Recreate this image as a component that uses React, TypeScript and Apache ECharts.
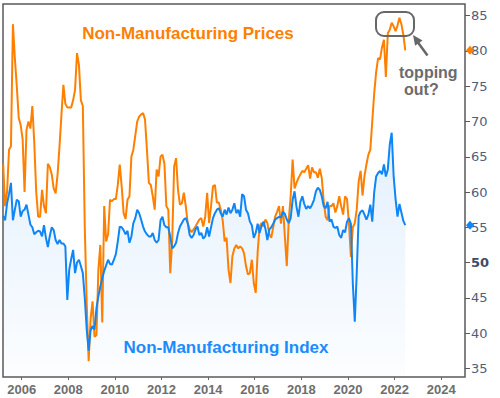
import React, { useEffect, useRef } from "react";
import * as echarts from "echarts";

// Monthly data, March 2005 .. June 2022
const START_YEAR = 2005;
const START_MONTH = 3;

const pricesIndex: number[] = [
  63.9, 58, 60, 66, 66.5, 83.8, 79, 75, 70.5, 69.5,
  67.5, 60, 68.8, 70, 69, 72.2, 67, 60, 56.5, 56.5, 60.3, 58,
  57, 64, 63.5, 62.5, 60.5, 59.8, 62.5, 66.5, 71, 75.2, 72.5, 72,
  72, 72, 73, 74.5, 79.7, 78, 73, 72.2, 55, 44.2, 36, 42,
  44.5, 39.5, 39.7, 49, 52.5, 41.5, 58, 53, 54, 58.9, 58.7, 59,
  59, 61, 63.9, 60.8, 57, 56.2, 58.9, 59.4, 65, 66, 68, 70,
  70.7, 71, 71.2, 70.3, 66, 61.3, 61, 59.4, 57.5, 63.2, 62.2, 65,
  65.3, 64, 58, 57.5, 48.5, 53, 63.6, 64.8, 60.3, 58.2, 58.4, 59.9,
  58, 55.6, 54.7, 54.3, 54.7, 55.1, 55.6, 56.1, 56.3, 55.1, 56.5, 59.9,
  55.6, 58, 60.8, 61, 58.5, 58.5, 57.5, 56, 53, 53.5, 49, 47.1,
  50.9, 52, 52.5, 52, 52.3, 52, 51.3, 49.5, 48.3, 48.5, 50.4, 47.1,
  45.7, 51.5, 55.1, 55.6, 55.1, 56.1, 55.6, 54, 53.5, 55, 56.5, 57.2,
  58, 55.5, 58, 53.7, 49.5, 56, 59.4, 64.6, 60.5, 61.3, 62, 62.5,
  63, 62.8, 63.3, 63.8, 61.9, 63.5, 62.8, 62.8, 62, 63.3, 62, 58.7,
  56.5, 56, 58, 58, 58.4, 57.1, 58, 59.4, 58, 56.8, 59.4, 59,
  55.5, 50.8, 55, 55.6, 57.5, 61.5, 63, 59.5, 62.3, 63.9, 65.3, 66,
  70, 74, 77, 79, 78.8, 80.5, 81.6, 76.3, 82.5, 83, 84, 83.5,
  82.8, 83.6, 84.7, 83.8, 82.3, 80.1,
];

const nmIndex: number[] = [
  56.6, 56, 58.4, 59.7, 61.3, 56, 57.5, 58.9, 58.7, 56.5,
  57.3, 57.5, 58.2, 56.8, 55.4, 55, 54, 54.3, 54.5, 54.4, 53.7, 55.3,
  53.5, 52.2, 53.8, 55, 54.6, 53.2, 52.6, 53.2, 52.7, 52.7, 52.3, 44.7,
  49, 50.5, 51.8, 48.5, 50, 50.4, 49.5, 48.5, 45, 40.5, 37.5, 40.4,
  41, 40.5, 43.5, 45.2, 46.6, 47.8, 48.8, 49.6, 50.4, 49.8, 49.7, 50.4,
  51.2, 53, 55.1, 55, 54.6, 54, 54.5, 52.8, 53.7, 55.6, 56.3, 57.5,
  57, 56.1, 55.1, 54.4, 54, 53.7, 53.7, 54.2, 53.2, 52.8, 53.2, 56,
  56.5, 55.3, 55, 55, 53.7, 52, 52.3, 52.8, 54.2, 55.1, 55.6, 56.1,
  56.3, 55.6, 53.9, 53.5, 53.9, 54.7, 55.1, 53.9, 54.2, 53.4, 53.7, 55,
  53.7, 55, 56.3, 57, 57.5, 57.7, 57, 56.5, 57.5, 56.8, 57.8, 57,
  57.5, 58.4, 57, 57.5, 56.5, 59.7, 59.4, 57.5, 57, 55.8, 55.3, 53.5,
  54.2, 55.5, 54.2, 55.2, 55.8, 54.8, 53.2, 54.7, 55, 55.5, 56.1, 56.3,
  56.5, 56.4, 57.2, 56.9, 56.1, 55.6, 56.3, 58.9, 60.1, 57.9, 56.5, 58.6,
  59.4, 58.3, 57.6, 58, 57.7, 58.2, 58.9, 60.1, 60.6, 60.3, 59.4, 58,
  57.7, 58.6, 55.8, 56.1, 55.1, 54.9, 55.1, 53.9, 53.5, 54.6, 54.3, 55.8,
  56.3, 55.5, 47, 41.6, 48.5, 56.6, 57.2, 57.4, 56.8, 56.1, 56.8, 58.2,
  55.8, 60, 62.2, 62.7, 63, 62.5, 63.9, 62.2, 63.2, 66.7, 68.4, 62.3,
  59, 56.5, 58.3, 57.1, 55.9, 55.3,
];

const xTickYears: number[] = [2006, 2008, 2010, 2012, 2014, 2016, 2018, 2020, 2022, 2024];
const yTickValues: number[] = [35, 40, 45, 50, 55, 60, 65, 70, 75, 80, 85];

const X_MIN = 2005.2;
const X_MAX = 2025.02;
const Y_MIN = 33.77;
const Y_MAX = 86.66;

const ORANGE = "#ff8000";
const BLUE = "#0f86f5";

function monthPos(i: number): number {
  return START_YEAR + (START_MONTH - 1 + i + 0.5) / 12;
}

export default function App() {
  const ref = useRef<HTMLDivElement>(null);

  useEffect(() => {
    if (!ref.current) return;
    const chart = echarts.init(ref.current, null, { renderer: "svg" });

    const pricesData = pricesIndex.map((v, i) => [monthPos(i), v]);
    const nmData = nmIndex.map((v, i) => [monthPos(i), v]);
    const lastPrice = pricesIndex[pricesIndex.length - 1];
    const lastNm = nmIndex[nmIndex.length - 1];

    const textStyle = (text: string, fill: string, size: number, align: string) => ({
      text,
      fill,
      fontFamily: "Liberation Sans",
      fontSize: size,
      fontWeight: "bold",
      align,
      verticalAlign: "middle",
    });

    const baseGraphic: any[] = [
      { type: "text", x: 188, y: 33, style: textStyle("Non-Manufacturing Prices", ORANGE, 17, "center"), z: 10 },
      { type: "text", x: 226, y: 347.5, style: textStyle("Non-Manufacturing Index", "#1a8cff", 17, "center"), z: 10 },
      {
        type: "rect",
        shape: { x: 376, y: 12, width: 38, height: 24, r: 8 },
        style: { fill: "none", stroke: "#676767", lineWidth: 2 },
        z: 10,
      },
      {
        type: "line",
        shape: { x1: 427.5, y1: 55.5, x2: 418, y2: 42.5 },
        style: { stroke: "#676767", lineWidth: 2.5 },
        z: 10,
      },
      {
        type: "polygon",
        shape: { points: [[413, 35], [422.5, 40.6], [415.1, 45.8]] },
        style: { fill: "#676767" },
        z: 10,
      },
      { type: "text", x: 399, y: 72, style: textStyle("topping", "#6b6b6b", 16, "left"), z: 10 },
      { type: "text", x: 404, y: 89.5, style: textStyle("out?", "#6b6b6b", 16, "left"), z: 10 },
    ];

    const option: any = {
      animation: false,
      backgroundColor: "#ffffff",
      grid: {
        left: 3,
        right: 35,
        top: 4,
        bottom: 21,
        show: true,
        borderColor: "#5a5a5a",
        borderWidth: 1.5,
        backgroundColor: "transparent",
        containLabel: false,
      },
      xAxis: {
        type: "value",
        min: X_MIN,
        max: X_MAX,
        splitLine: { show: false },
        axisLine: { show: false },
        axisTick: { show: true, customValues: xTickYears, length: 3, lineStyle: { color: "#666", width: 1 } },
        axisLabel: {
          customValues: xTickYears,
          formatter: (v: number) => String(Math.round(v)),
          color: "#6e6e6e",
          fontFamily: "Liberation Sans",
          fontSize: 13,
          fontWeight: "bold",
          margin: 6,
        },
      },
      yAxis: {
        type: "value",
        position: "right",
        min: Y_MIN,
        max: Y_MAX,
        splitLine: { show: false },
        axisLine: { show: false },
        axisTick: { show: true, customValues: yTickValues, length: 5, lineStyle: { color: "#5a5a5a", width: 1 } },
        axisLabel: {
          customValues: yTickValues,
          formatter: (v: number) => (Math.round(v) === 50 ? "{b|50}" : String(Math.round(v))),
          color: "#4f5d7a",
          fontFamily: "DejaVu Sans",
          fontSize: 13,
          margin: 6,
          rich: { b: { fontWeight: "bold", color: "#3f4b66", fontFamily: "DejaVu Sans", fontSize: 13 } },
        },
      },
      series: [
        {
          name: "NMI area",
          type: "line",
          data: nmData,
          showSymbol: false,
          silent: true,
          lineStyle: { width: 0 },
          areaStyle: {
            origin: "start",
            color: new echarts.graphic.LinearGradient(0, 0, 0, 1, [
              { offset: 0, color: "rgba(20,130,240,0.17)" },
              { offset: 1, color: "rgba(20,130,240,0.02)" },
            ]),
          },
          z: 1,
        },
        {
          name: "Non-Manufacturing Prices",
          type: "line",
          data: pricesData,
          showSymbol: false,
          lineStyle: { color: ORANGE, width: 2 },
          itemStyle: { color: ORANGE },
          z: 2,
        },
        {
          name: "Non-Manufacturing Index",
          type: "line",
          data: nmData,
          showSymbol: false,
          lineStyle: { color: BLUE, width: 2 },
          itemStyle: { color: BLUE },
          z: 3,
        },
      ],
      graphic: baseGraphic,
    };

    chart.setOption(option);

    // Latest-value diamonds on the right axis, placed through the y scale
    const diamond = (yv: number, color: string) => {
      const py = chart.convertToPixel({ yAxisIndex: 0 }, yv) as number;
      const cx = 470;
      return {
        type: "polygon",
        shape: { points: [[cx, py - 4.5], [cx + 4, py], [cx, py + 4.5], [cx - 4, py]] },
        style: { fill: color },
        z: 12,
      };
    };
    chart.setOption({
      graphic: [...baseGraphic, diamond(lastPrice, ORANGE), diamond(lastNm, BLUE)],
    });

    return () => chart.dispose();
  }, []);

  return <div ref={ref} style={{ position: "absolute", left: 0, top: 0, width: 500, height: 398 }} />;
}
